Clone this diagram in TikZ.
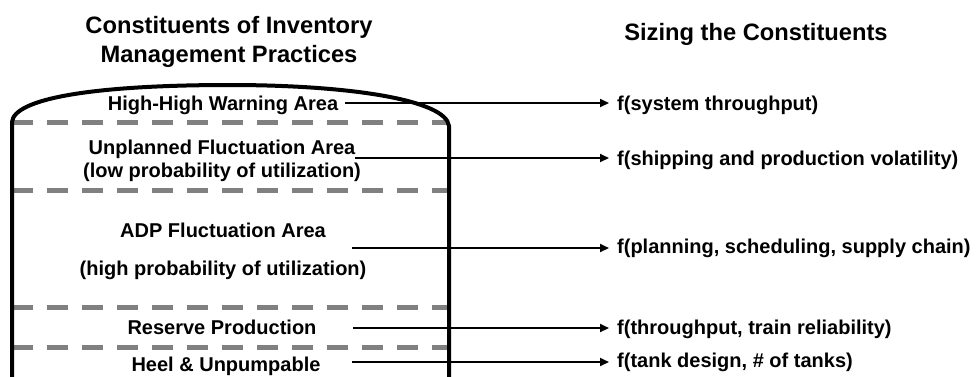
\documentclass[tikz,border=0pt]{standalone}
\usepackage{fontspec}
\setmainfont{Liberation Sans}
\usetikzlibrary{arrows.meta}
\tikzset{
  tankwall/.style={line width=4pt, black},
  levelline/.style={line width=5pt, color=black!50, dash pattern=on 21pt off 14pt},
  conn/.style={line width=2pt, -{Triangle[length=9pt,width=8pt]}, shorten >=8pt},
  lefttext/.style={font=\bfseries\fontsize{20}{23}\selectfont, align=center, anchor=base, inner sep=0pt},
  righttext/.style={font=\bfseries\fontsize{20}{23}\selectfont, anchor=base west, inner sep=0pt},
  titletext/.style={font=\bfseries\fontsize{23.7}{29}\selectfont, align=center, anchor=base, inner sep=0pt}
}
\begin{document}
\begin{tikzpicture}[x=1pt,y=-1pt]
\useasboundingbox (0,0) rectangle (980,376);
% titles (base anchor = baseline of the last line)
\node[titletext] (t1) at (229,62) {Constituents of Inventory\\Management Practices};
\node[titletext] (t2) at (756,40) {Sizing the Constituents};
% level lines
\draw[levelline] (12,122) -- (449,122);
\draw[levelline] (12,190) -- (449,190);
\draw[levelline] (12,307) -- (449,307);
\draw[levelline] (12,347) -- (449,347);
% tank
\draw[tankwall] (12,380) -- (12,122) .. controls (14,99) and (90,85) .. (230,85) .. controls (350,85) and (446,100) .. (449,126) -- (449,380);
% left labels
\node[lefttext] (a1) at (223,110) {High-High Warning Area};
\node[lefttext] (a2) at (222,177) {Unplanned Fluctuation Area\\(low probability of utilization)};
\node[lefttext] (a3) at (223,275) {ADP Fluctuation Area\\[15pt](high probability of utilization)};
\node[lefttext] (a4) at (222,334) {Reserve Production};
\node[lefttext] (a5) at (226,371) {Heel \& Unpumpable};
% right labels
\node[righttext] (b1) at (617,110) {f(system throughput)};
\node[righttext] (b2) at (617,165) {f(shipping and production volatility)};
\node[righttext] (b3) at (617,253) {f(planning, scheduling, supply chain)};
\node[righttext] (b4) at (617,334) {f(throughput, train reliability)};
\node[righttext] (b5) at (617,367) {f(tank design, \# of tanks)};
% connectors
\coordinate (s1) at (345,103);
\coordinate (s2) at (355,158);
\coordinate (s3) at (352,248);
\coordinate (s4) at (353,328);
\coordinate (s5) at (352,362);
\draw[conn] (s1) -- (s1 -| b1.west);
\draw[conn] (s2) -- (s2 -| b2.west);
\draw[conn] (s3) -- (s3 -| b3.west);
\draw[conn] (s4) -- (s4 -| b4.west);
\draw[conn] (s5) -- (s5 -| b5.west);
\end{tikzpicture}
\end{document}
